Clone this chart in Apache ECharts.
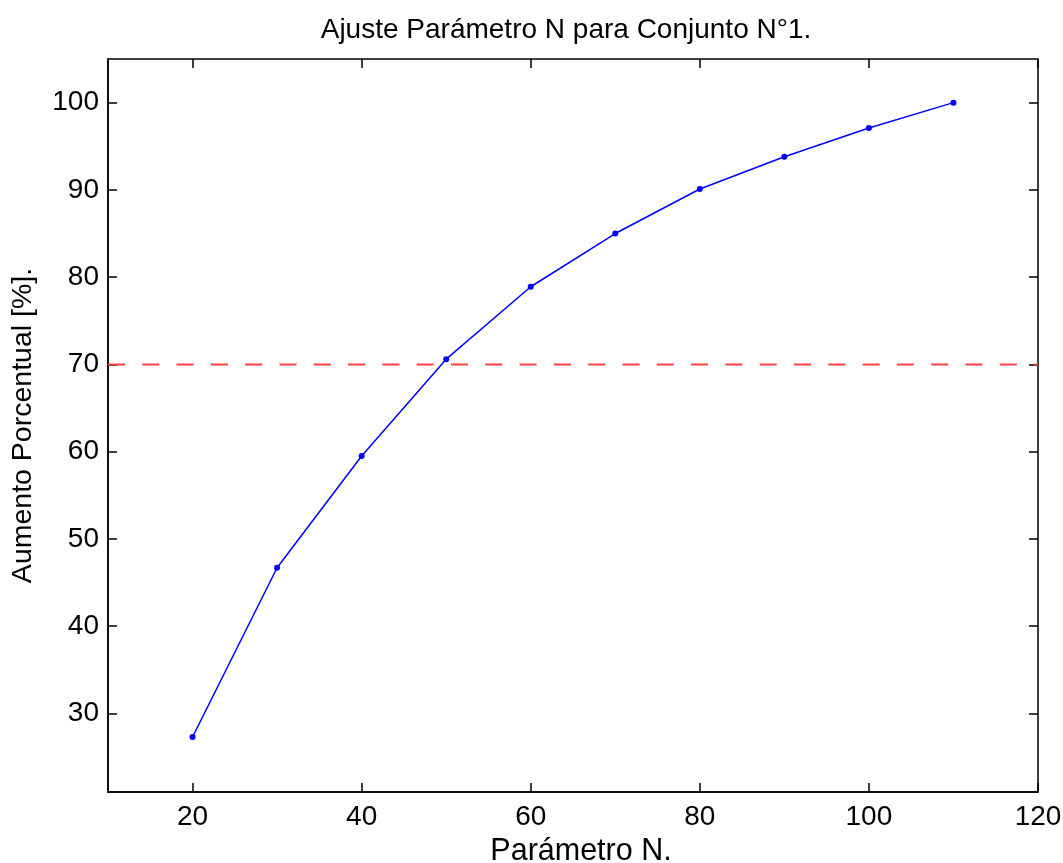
<!DOCTYPE html>
<html>
<head>
<meta charset="utf-8">
<script src="https://cdn.jsdelivr.net/npm/echarts@6/dist/echarts.min.js"></script>
<style>
  html, body { margin: 0; padding: 0; background: #fff; }
  #chart { width: 1063px; height: 863px; }
</style>
</head>
<body>
<div id="chart"></div>
<script>
// valores
var paramN = [20, 30, 40, 50, 60, 70, 80, 90, 100, 110];
var aumento = [27.3, 46.7, 59.5, 70.6, 78.9, 85.0, 90.1, 93.8, 97.1, 100.0];
var umbral = 70;
var xTicks = [20, 40, 60, 80, 100, 120];
var yTicks = [30, 40, 50, 60, 70, 80, 90, 100];

var FONT = 'Liberation Sans, Arial, sans-serif';

var myChart = echarts.init(document.getElementById('chart'));

var lineData = paramN.map(function (n, i) { return [n, aumento[i]]; });

var option = {
  animation: false,
  backgroundColor: '#fff',
  title: {
    text: 'Ajuste Parámetro N para Conjunto N°1.',
    left: 561,
    textAlign: 'center',
    top: 11,
    textStyle: { fontFamily: FONT, fontSize: 28, fontWeight: 'normal', color: '#000' }
  },
  grid: {
    left: 108, right: 25, top: 59, bottom: 71,
    containLabel: false, outerBoundsMode: 'none',
    show: true, borderColor: '#000', borderWidth: 1.5, backgroundColor: '#fff'
  },
  xAxis: [{
    type: 'value', min: 10, max: 120,
    name: 'Parámetro N.', nameLocation: 'middle', nameGap: 31,
    nameTextStyle: { fontFamily: FONT, fontSize: 30.5, color: '#000', padding: [0, 0, 0, 16] },
    axisLine: { show: true, lineStyle: { color: '#000', width: 1.5 } },
    axisTick: { show: true, inside: true, length: 9, customValues: xTicks, lineStyle: { color: '#000', width: 1.5 } },
    axisLabel: { fontFamily: FONT, fontSize: 28, color: '#000', margin: 11, customValues: xTicks },
    splitLine: { show: false }
  }, {
    type: 'value', min: 10, max: 120, position: 'top',
    axisLine: { show: false },
    axisTick: { show: true, inside: true, length: 9, customValues: xTicks, lineStyle: { color: '#000', width: 1.5 } },
    axisLabel: { show: false },
    splitLine: { show: false }
  }],
  yAxis: [{
    type: 'value', min: 21, max: 105,
    name: 'Aumento Porcentual [%].', nameLocation: 'middle', nameGap: 70,
    nameTextStyle: { fontFamily: FONT, fontSize: 28.5, color: '#000' },
    axisLine: { show: true, lineStyle: { color: '#000', width: 1.5 } },
    axisTick: { show: true, inside: true, length: 9, customValues: yTicks, lineStyle: { color: '#000', width: 1.5 } },
    axisLabel: { fontFamily: FONT, fontSize: 28, color: '#000', margin: 9, customValues: yTicks },
    splitLine: { show: false }
  }, {
    type: 'value', min: 21, max: 105, position: 'right',
    axisLine: { show: false },
    axisTick: { show: true, inside: true, length: 9, customValues: yTicks, lineStyle: { color: '#000', width: 1.5 } },
    axisLabel: { show: false },
    splitLine: { show: false }
  }],
  series: [{
    type: 'line',
    data: [[10, umbral], [120, umbral]],
    symbol: 'none',
    lineStyle: { color: '#ff4040', width: 2, type: [17, 17.3] },
    silent: true
  }, {
    type: 'line',
    data: lineData,
    symbol: 'circle',
    symbolSize: 6,
    itemStyle: { color: '#0000ff' },
    lineStyle: { color: '#0000ff', width: 1.5 }
  }]
};

myChart.setOption(option);
window.addEventListener('resize', function () {
  myChart.resize();
});
</script>
</body>
</html>
